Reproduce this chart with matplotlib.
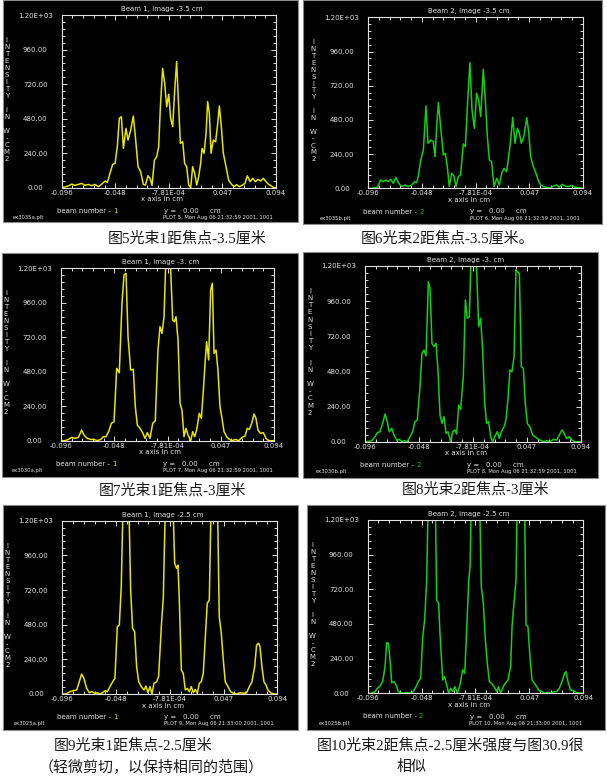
import matplotlib
matplotlib.use('Agg')
import matplotlib.pyplot as plt
from matplotlib.patches import Rectangle
from matplotlib.ticker import AutoMinorLocator

W, H = 607, 779

# ---- data (x in cm, intensity in W/cm2) ----
b1_35_x = [-0.0960, -0.0930, -0.0901, -0.0871, -0.0842, -0.0812, -0.0783, -0.0753, -0.0724, -0.0694,
           -0.0665, -0.0635, -0.0605, -0.0576, -0.0555, -0.0532, -0.0508, -0.0487, -0.0467, -0.0449,
           -0.0431, -0.0413, -0.0390, -0.0372, -0.0348, -0.0325, -0.0304, -0.0283, -0.0260, -0.0236,
           -0.0218, -0.0195, -0.0177, -0.0159, -0.0138, -0.0118, -0.0100, -0.0085, -0.0065, -0.0047,
           -0.0029, -0.0011, 0.0006, 0.0024, 0.0042, 0.0059, 0.0077, 0.0092, 0.0113, 0.0130,
           0.0148, 0.0166, 0.0184, 0.0201, 0.0219, 0.0237, 0.0254, 0.0272, 0.0284, 0.0302,
           0.0320, 0.0334, 0.0349, 0.0364, 0.0384, 0.0405, 0.0420, 0.0438, 0.0455, 0.0473,
           0.0497, 0.0520, 0.0544, 0.0568, 0.0591, 0.0615, 0.0642, 0.0665, 0.0686, 0.0710,
           0.0733, 0.0757, 0.0780, 0.0804, 0.0828, 0.0851, 0.0875, 0.0899, 0.0922, 0.0940]
b1_35_y = [0, 5, 12, 25, 16, 23, 30, 16, 23, 14,
           23, 7, 25, 46, 37, 100, 162, 169, 285, 482,
           493, 273, 412, 331, 401, 498, 331, 146, 111, 23,
           18, 83, 65, 16, 192, 215, 285, 563, 829, 725,
           563, 649, 482, 424, 679, 876, 563, 308, 320, 169,
           146, 18, 0, 146, 100, 18, 76, 169, 273, 239,
           378, 598, 517, 239, 331, 320, 424, 568, 424, 239,
           146, 53, 25, 7, 21, 7, 18, 30, 83, 42,
           65, 42, 58, 46, 65, 42, 23, 12, 0, 0]

b2_35_x = [-0.0960, -0.0930, -0.0880, -0.0851, -0.0827, -0.0803, -0.0783, -0.0762, -0.0738, -0.0715,
           -0.0691, -0.0665, -0.0635, -0.0605, -0.0576, -0.0546, -0.0532, -0.0517, -0.0496, -0.0472,
           -0.0449, -0.0431, -0.0407, -0.0384, -0.0369, -0.0354, -0.0339, -0.0319, -0.0295, -0.0277,
           -0.0260, -0.0242, -0.0221, -0.0201, -0.0183, -0.0162, -0.0142, -0.0118, -0.0100, -0.0079,
           -0.0059, -0.0041, -0.0020, 0.0000, 0.0018, 0.0036, 0.0059, 0.0077, 0.0095, 0.0113,
           0.0133, 0.0154, 0.0178, 0.0201, 0.0222, 0.0243, 0.0266, 0.0284, 0.0302, 0.0320,
           0.0340, 0.0361, 0.0379, 0.0396, 0.0420, 0.0444, 0.0461, 0.0479, 0.0503, 0.0526,
           0.0550, 0.0568, 0.0591, 0.0621, 0.0650, 0.0680, 0.0710, 0.0733, 0.0757, 0.0783,
           0.0813, 0.0843, 0.0872, 0.0902, 0.0940]
b2_35_y = [0, 0, 7, 58, 47, 58, 47, 63, 35, 77,
           35, 12, 23, 12, 23, 47, 40, 82, 194, 269,
           578, 316, 339, 327, 222, 433, 601, 433, 234, 246,
           152, 12, 105, 87, 12, 82, 94, 311, 292, 620,
           882, 550, 421, 667, 620, 503, 835, 620, 363, 199,
           187, 12, 70, 23, 105, 140, 117, 222, 339, 498,
           316, 421, 386, 316, 367, 496, 398, 222, 152, 105,
           47, 23, 12, 7, 0, 16, 23, 7, 28, 16,
           12, 19, 7, 5, 0]

b1_30_x = [-0.0960, -0.0924, -0.0895, -0.0865, -0.0835, -0.0805, -0.0776, -0.0755, -0.0725, -0.0695,
           -0.0666, -0.0636, -0.0606, -0.0582, -0.0559, -0.0535, -0.0511, -0.0487, -0.0463, -0.0440,
           -0.0416, -0.0398, -0.0380, -0.0362, -0.0339, -0.0315, -0.0297, -0.0279, -0.0255, -0.0232,
           -0.0211, -0.0190, -0.0166, -0.0142, -0.0119, -0.0095, -0.0077, -0.0059, -0.0041, -0.0023,
           -0.0006, 0.0012, 0.0036, 0.0051, 0.0066, 0.0084, 0.0102, 0.0119, 0.0137, 0.0155,
           0.0173, 0.0197, 0.0215, 0.0232, 0.0250, 0.0274, 0.0292, 0.0310, 0.0327, 0.0339,
           0.0357, 0.0375, 0.0390, 0.0405, 0.0423, 0.0440, 0.0458, 0.0476, 0.0494, 0.0518,
           0.0542, 0.0565, 0.0595, 0.0625, 0.0655, 0.0681, 0.0702, 0.0720, 0.0741, 0.0762,
           0.0779, 0.0797, 0.0821, 0.0845, 0.0869, 0.0892, 0.0940]
b1_30_y = [0, 0, 9, 23, 16, 23, 74, 39, 16, 9,
           9, 0, 9, 28, 28, 63, 121, 132, 504, 473,
           956, 1154, 1165, 724, 492, 497, 237, 109, 86, 56,
           16, 56, 16, 121, 139, 631, 794, 747, 863, 1300,
           1210, 1320, 840, 828, 863, 701, 260, 214, 28, 86,
           39, 0, 63, 28, 74, 190, 156, 353, 562, 689,
           562, 1049, 1096, 608, 631, 492, 237, 156, 63, 28,
           9, 0, 9, 0, 23, 32, 86, 79, 121, 186,
           156, 74, 51, 56, 16, 0, 0]

b2_30_x = [-0.0960, -0.0931, -0.0901, -0.0872, -0.0852, -0.0828, -0.0805, -0.0784, -0.0764, -0.0746,
           -0.0725, -0.0705, -0.0681, -0.0658, -0.0635, -0.0611, -0.0588, -0.0564, -0.0541, -0.0520,
           -0.0500, -0.0476, -0.0459, -0.0441, -0.0423, -0.0403, -0.0388, -0.0371, -0.0353, -0.0335,
           -0.0318, -0.0300, -0.0283, -0.0265, -0.0247, -0.0230, -0.0206, -0.0189, -0.0168, -0.0154,
           -0.0136, -0.0119, -0.0095, -0.0077, -0.0060, -0.0042, -0.0028, -0.0007, 0.0011, 0.0022,
           0.0040, 0.0057, 0.0075, 0.0093, 0.0110, 0.0128, 0.0145, 0.0163, 0.0181, 0.0204,
           0.0222, 0.0239, 0.0263, 0.0280, 0.0298, 0.0315, 0.0333, 0.0351, 0.0368, 0.0380,
           0.0398, 0.0415, 0.0433, 0.0450, 0.0468, 0.0491, 0.0515, 0.0535, 0.0556, 0.0579,
           0.0609, 0.0638, 0.0667, 0.0697, 0.0726, 0.0749, 0.0773, 0.0790, 0.0814, 0.0837,
           0.0861, 0.0887, 0.0940]
b2_30_y = [0, 0, 7, 34, 61, 68, 125, 189, 137, 68,
           91, 46, 11, 16, 0, 7, 0, 34, 68, 137,
           148, 376, 603, 626, 585, 1093, 1048, 672, 649, 672,
           490, 182, 125, 171, 57, 68, 0, 68, 80, 52,
           250, 221, 444, 968, 843, 854, 1250, 1300, 1250, 1173,
           786, 843, 626, 262, 125, 137, 34, 0, 34, 68,
           23, 68, 102, 148, 296, 490, 478, 580, 1173, 1161,
           1150, 512, 501, 262, 125, 102, 46, 34, 23, 11,
           0, 7, 0, 16, 11, 46, 80, 61, 23, 34,
           11, 0, 0]

b1_25_x = [-0.0960, -0.0928, -0.0892, -0.0863, -0.0833, -0.0810, -0.0789, -0.0769, -0.0745, -0.0721,
           -0.0698, -0.0671, -0.0651, -0.0627, -0.0604, -0.0580, -0.0562, -0.0539, -0.0515, -0.0495,
           -0.0474, -0.0456, -0.0439, -0.0421, -0.0397, -0.0374, -0.0356, -0.0339, -0.0321, -0.0303,
           -0.0285, -0.0262, -0.0238, -0.0221, -0.0203, -0.0185, -0.0168, -0.0150, -0.0126, -0.0109,
           -0.0085, -0.0067, -0.0047, -0.0014, 0.0015, 0.0033, 0.0050, 0.0062, 0.0074, 0.0092,
           0.0109, 0.0127, 0.0145, 0.0162, 0.0180, 0.0198, 0.0215, 0.0233, 0.0251, 0.0268,
           0.0286, 0.0304, 0.0321, 0.0339, 0.0357, 0.0380, 0.0410, 0.0427, 0.0445, 0.0463,
           0.0480, 0.0504, 0.0528, 0.0551, 0.0581, 0.0610, 0.0640, 0.0669, 0.0693, 0.0716,
           0.0740, 0.0757, 0.0775, 0.0787, 0.0804, 0.0822, 0.0840, 0.0857, 0.0881, 0.0911, 0.0940]
b1_25_y = [0, 0, 16, 23, 28, 85, 138, 108, 39, 9,
           16, 5, 9, 0, 9, 23, 16, 51, 85, 108,
           466, 478, 743, 1400, 2200, 1400, 720, 455, 432, 189,
           85, 51, 28, 55, 9, 51, 0, 74, 85, 120,
           466, 674, 1400, 2400, 1400, 905, 870, 893, 651, 166,
           143, 28, 39, 16, 51, 9, 32, 5, 74, 85,
           143, 397, 628, 651, 1400, 2200, 1400, 535, 420, 235,
           85, 51, 16, 5, 0, 9, 5, 9, 51, 85,
           189, 339, 351, 328, 189, 85, 62, 28, 9, 0, 0]

b2_25_x = [-0.0960, -0.0925, -0.0895, -0.0875, -0.0851, -0.0828, -0.0807, -0.0793, -0.0778, -0.0763,
           -0.0749, -0.0728, -0.0710, -0.0690, -0.0669, -0.0646, -0.0616, -0.0587, -0.0558, -0.0534,
           -0.0514, -0.0493, -0.0475, -0.0458, -0.0440, -0.0423, -0.0393, -0.0367, -0.0352, -0.0335,
           -0.0323, -0.0299, -0.0282, -0.0264, -0.0246, -0.0229, -0.0211, -0.0191, -0.0170, -0.0147,
           -0.0123, -0.0105, -0.0088, -0.0070, -0.0058, -0.0044, -0.0011, 0.0024, 0.0041, 0.0059,
           0.0077, 0.0094, 0.0112, 0.0132, 0.0153, 0.0177, 0.0194, 0.0212, 0.0235, 0.0253,
           0.0276, 0.0300, 0.0312, 0.0329, 0.0347, 0.0361, 0.0391, 0.0420, 0.0435, 0.0452,
           0.0470, 0.0488, 0.0505, 0.0529, 0.0552, 0.0576, 0.0599, 0.0623, 0.0652, 0.0682,
           0.0705, 0.0729, 0.0752, 0.0775, 0.0787, 0.0805, 0.0828, 0.0852, 0.0881, 0.0911, 0.0940]
b2_25_y = [0, 0, 12, 35, 51, 81, 185, 351, 346, 231,
           74, 81, 58, 12, 5, 0, 5, 0, 12, 46,
           81, 104, 392, 508, 785, 1500, 2300, 1500, 646, 623,
           416, 92, 115, 58, 0, 35, 12, 46, 0, 58,
           162, 139, 438, 773, 877, 1450, 2400, 1450, 739, 623,
           369, 208, 81, 69, 46, 12, 46, 0, 46, 69,
           92, 185, 462, 623, 785, 1500, 2300, 1500, 473, 462,
           254, 92, 74, 46, 18, 12, 0, 5, 0, 12,
           12, 35, 81, 139, 150, 81, 23, 18, 5, 0, 0]

x_tick_labels = ['-0.096', '-0.048', '-7.81E-04', '0.047', '0.094']
y_ticks = [0, 240, 480, 720, 960, 1200]
y_tick_labels = ['0.00', '240.00', '480.00', '720.00', '960.00', '1.20E+03']
x_min, x_max = -0.096, 0.094

titles = ['Beam 1, image -3.5 cm', 'Beam 2, image -3.5 cm',
          'Beam 1, image -3. cm', 'Beam 2, image -3. cm',
          'Beam 1, image -2.5 cm', 'Beam 2, image -2.5 cm']
files = ['ex3035a.plt', 'ex3035b.plt', 'ex3030a.plt', 'ex3030b.plt', 'ex3025a.plt', 'ex3025b.plt']
stamps = ['PLOT 5, Mon Aug 06 21:32:59 2001, 1001', 'PLOT 6, Mon Aug 06 21:32:59 2001, 1001',
          'PLOT 7, Mon Aug 06 21:32:59 2001, 1001', 'PLOT 8, Mon Aug 06 21:32:59 2001, 1001',
          'PLOT 9, Mon Aug 06 21:33:00 2001, 1001', 'PLOT 10, Mon Aug 06 21:33:00 2001, 1001']
beams = ['1', '2', '1', '2', '1', '2']
series = [(b1_35_x, b1_35_y), (b2_35_x, b2_35_y), (b1_30_x, b1_30_y),
          (b2_30_x, b2_30_y), (b1_25_x, b1_25_y), (b2_25_x, b2_25_y)]

captions = [
    ('图5光束1距焦点-3.5厘米', 187, 238),
    ('图6光束2距焦点-3.5厘米。', 448, 238),
    ('图7光束1距焦点-3厘米', 172, 490),
    ('图8光束2距焦点-3厘米', 475, 489),
    ('图9光束1距焦点-2.5厘米', 133, 745),
    ('（轻微剪切，以保持相同的范围）', 151, 767),
    ('图10光束2距焦点-2.5厘米强度与图30.9很', 450, 745),
    ('相似', 412, 767),
]

# layout in pixels: black panel box and plot box (x0, y0, x1, y1)
panel_boxes = [(3, 0, 298, 222), (303, 0, 602, 224),
               (2, 253, 298, 477), (303, 252, 598, 478),
               (3, 505, 298, 730), (307, 505, 605, 730)]
axes_boxes = [(61.7, 15, 276, 187.7), (368.3, 17.3, 582.7, 188.3),
              (61, 268.3, 274, 440.7), (365, 266, 581, 441.7),
              (62.3, 520.7, 277.3, 694), (367.7, 520, 583.3, 693.3)]

YELLOW = '#e6e600'
GREEN = '#12d012'
TXT = '#e0e0e0'
colors = [YELLOW, GREEN, YELLOW, GREEN, YELLOW, GREEN]
FS = 5.0

fig = plt.figure(figsize=(W / 100, H / 100), dpi=100)
fig.patch.set_facecolor('white')


def fx(x):
    return x / W


def fy(y):
    return 1 - y / H


def ptext(x, y, s, **kw):
    kw.setdefault('color', TXT)
    kw.setdefault('fontsize', FS)
    kw.setdefault('family', 'DejaVu Sans')
    return fig.text(fx(x), fy(y), s, **kw)


for i in range(6):
    px0, py0, px1, py1 = panel_boxes[i]
    fig.patches.append(Rectangle((fx(px0), fy(py1)), (px1 - px0) / W, (py1 - py0) / H,
                                 transform=fig.transFigure, facecolor='black',
                                 edgecolor='#8a8a8a', lw=0.8, zorder=-5))
    ax0, ay0, ax1, ay1 = axes_boxes[i]
    ax = fig.add_axes([fx(ax0), fy(ay1), (ax1 - ax0) / W, (ay1 - ay0) / H])
    ax.set_facecolor('black')
    xs, ys = series[i]
    ax.plot(xs, ys, color=colors[i], lw=1.1)
    ax.set_xlim(x_min, x_max)
    ax.set_ylim(0, 1200)
    ax.set_xticks([x_min + k * (x_max - x_min) / 4 for k in range(5)])
    ax.set_xticklabels(x_tick_labels)
    ax.set_yticks(y_ticks)
    ax.set_yticklabels(y_tick_labels)
    ax.xaxis.set_minor_locator(AutoMinorLocator(5))
    ax.yaxis.set_minor_locator(AutoMinorLocator(5))
    ax.tick_params(which='both', direction='in', top=True, right=True, colors=TXT,
                   width=0.7, labelsize=FS)
    ax.tick_params(which='major', length=3.5)
    ax.tick_params(which='minor', length=2)
    ax.tick_params(axis='x', pad=1.5)
    ax.tick_params(axis='y', pad=19)
    for lab in ax.get_yticklabels():
        lab.set_horizontalalignment('center')
    for sp in ax.spines.values():
        sp.set_color(TXT)
        sp.set_linewidth(0.8)

    cx = (ax0 + ax1) / 2 - 7
    ptext(cx, ay0 - 6, titles[i], ha='center', va='center')
    ptext(cx, ay1 + 11.6, 'x axis in cm', ha='center', va='center')

    # vertical axis caption, one letter per row
    letters = 'INTENSITY IN W-CM2'
    step = (ay1 - ay0 - 54) / (len(letters) - 1)
    for k, ch in enumerate(letters):
        if ch != ' ':
            ptext(ax0 - 55, ay0 + 25 + k * step, ch, ha='center', va='center')

    t = ptext(ax0 - 5, ay1 + 23.2, 'beam number - ', ha='left', va='center')
    fig.add_artist(plt.Annotation(beams[i], xy=(1, 0.5), xycoords=t, va='center',
                                  ha='left', color=colors[i], fontsize=FS,
                                  family='DejaVu Sans'))
    ptext(ax0 + 102, ay1 + 23.2, 'y =   0.00     cm', ha='left', va='center')
    ptext(ax0 - 49, ay1 + 30, files[i], ha='left', va='center', fontsize=3.8)
    ptext(ax0 + 101.7, ay1 + 30, stamps[i], ha='left', va='center', fontsize=3.8)

for s, x, y in captions:
    fig.text(fx(x), fy(y), s, ha='center', va='center', fontsize=10.8, color='#1a1a1a',
             family=['Liberation Serif', 'Noto Sans CJK SC'])

fig.savefig('out.png', dpi=100)
